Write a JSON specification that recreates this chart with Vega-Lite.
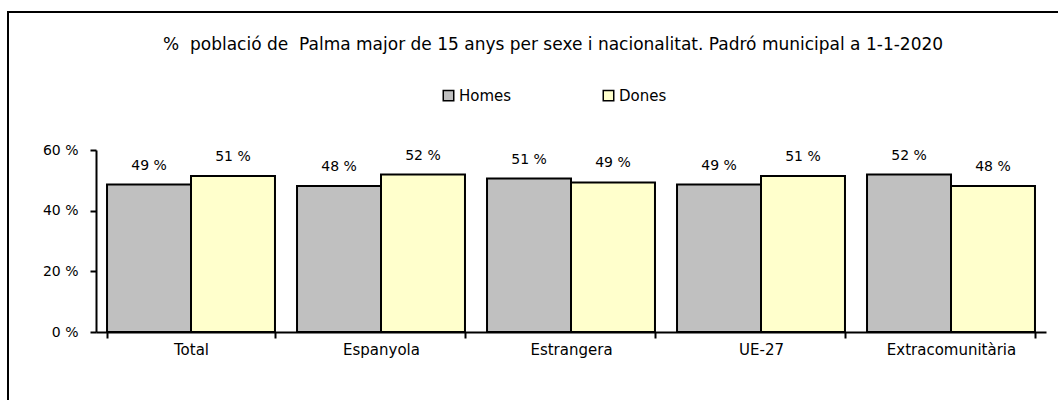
{
  "$schema": "https://vega.github.io/schema/vega-lite/v6.json",
  "autosize": {"type": "none"},
  "width": 1100,
  "height": 460,
  "padding": {"left": 8, "top": 12, "right": -50, "bottom": -72},
  "background": "white",
  "config": {
    "view": {"stroke": "black", "strokeWidth": 2},
    "font": "DejaVu Sans"
  },
  "title": {
    "text": "%\u00a0 població de\u00a0 Palma major de 15 anys per sexe i nacionalitat. Padró municipal a 1-1-2020",
    "anchor": "start",
    "offset": -50,
    "dx": 155,
    "baseline": "middle",
    "fontSize": 17,
    "fontWeight": "normal",
    "color": "black",
    "font": "DejaVu Sans"
  },
  "data": {
    "values": [
      {"nacionalitat": "Total", "sexe": "Homes", "pct": 48.6, "label": "49 %"},
      {"nacionalitat": "Total", "sexe": "Dones", "pct": 51.4, "label": "51 %"},
      {"nacionalitat": "Espanyola", "sexe": "Homes", "pct": 48.1, "label": "48 %"},
      {"nacionalitat": "Espanyola", "sexe": "Dones", "pct": 51.9, "label": "52 %"},
      {"nacionalitat": "Estrangera", "sexe": "Homes", "pct": 50.6, "label": "51 %"},
      {"nacionalitat": "Estrangera", "sexe": "Dones", "pct": 49.3, "label": "49 %"},
      {"nacionalitat": "UE-27", "sexe": "Homes", "pct": 48.6, "label": "49 %"},
      {"nacionalitat": "UE-27", "sexe": "Dones", "pct": 51.4, "label": "51 %"},
      {"nacionalitat": "Extracomunitària", "sexe": "Homes", "pct": 51.9, "label": "52 %"},
      {"nacionalitat": "Extracomunitària", "sexe": "Dones", "pct": 48.1, "label": "48 %"}
    ]
  },
  "encoding": {
    "x": {
      "field": "nacionalitat",
      "type": "nominal",
      "sort": null,
      "scale": {"range": [88, 1038], "paddingInner": 0.116, "paddingOuter": 0.058},
      "axis": {
        "title": null,
        "offset": -140,
        "labelAngle": 0,
        "domainColor": "black",
        "domainWidth": 2,
        "tickColor": "black",
        "tickWidth": 2,
        "tickSize": 6,
        "tickBand": "extent",
        "labelColor": "black",
        "labelFontSize": 15,
        "labelPadding": 4,
        "labelFont": "DejaVu Sans"
      }
    },
    "xOffset": {"field": "sexe", "type": "nominal", "sort": ["Homes", "Dones"]},
    "y": {
      "field": "pct",
      "type": "quantitative",
      "scale": {"domain": [0, 60], "range": [320, 138], "nice": false},
      "axis": {
        "title": null,
        "offset": -88,
        "values": [0, 20, 40, 60],
        "labelExpr": "datum.value + ' %'",
        "grid": false,
        "domainColor": "black",
        "domainWidth": 2,
        "tickColor": "black",
        "tickWidth": 2,
        "tickSize": 6,
        "labelColor": "black",
        "labelFontSize": 14,
        "labelPadding": 12,
        "labelFont": "DejaVu Sans"
      }
    }
  },
  "layer": [
    {
      "mark": {"type": "bar", "stroke": "black", "strokeWidth": 2, "opacity": 1},
      "encoding": {
        "color": {
          "field": "sexe",
          "type": "nominal",
          "sort": ["Homes", "Dones"],
          "scale": {"domain": ["Homes", "Dones"], "range": ["#C0C0C0", "#FFFFCC"]},
          "legend": {
            "title": null,
            "orient": "none",
            "legendX": 433,
            "legendY": 76,
            "direction": "horizontal",
            "symbolType": "square",
            "symbolSize": 110,
            "symbolStrokeColor": "black",
            "symbolStrokeWidth": 1.5,
            "symbolOpacity": 1,
            "labelFontSize": 15,
            "labelColor": "black",
            "labelFont": "DejaVu Sans",
            "labelOffset": 3,
            "columnPadding": 88,
            "padding": 0
          }
        }
      }
    },
    {
      "mark": {"type": "text", "baseline": "alphabetic", "dy": -15, "fontSize": 14, "color": "black", "font": "DejaVu Sans"},
      "encoding": {
        "text": {"field": "label"}
      }
    }
  ]
}
